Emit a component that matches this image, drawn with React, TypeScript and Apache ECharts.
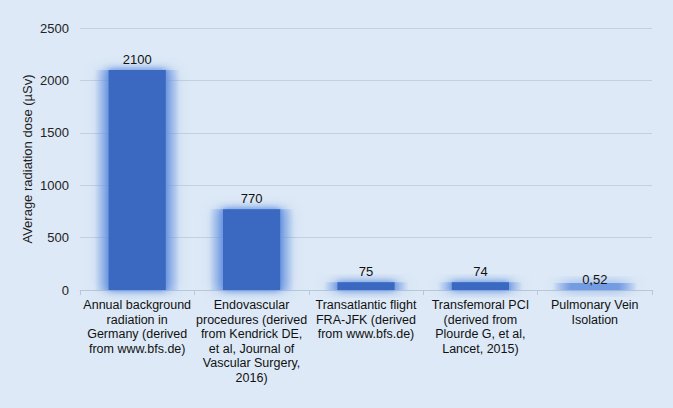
import React, { useEffect, useRef } from "react";
import * as echarts from "echarts";

const categories = [
  "Annual background\nradiation in\nGermany (derived\nfrom www.bfs.de)",
  "Endovascular\nprocedures (derived\nfrom Kendrick DE,\net al, Journal of\nVascular Surgery,\n2016)",
  "Transatlantic flight\nFRA-JFK (derived\nfrom www.bfs.de)",
  "Transfemoral PCI\n(derived from\nPlourde G, et al,\nLancet, 2015)",
  "Pulmonary Vein\nIsolation",
];
const doses = [2100, 770, 75, 74, 0.52];
const yTicks = { min: 0, max: 2500, interval: 500 };

export default function App() {
  const ref = useRef<HTMLDivElement>(null);
  useEffect(() => {
    document.body.style.margin = "0";
    const chart = echarts.init(ref.current!, null, { renderer: "svg" });
    const glowFill = new echarts.graphic.LinearGradient(0, 0, 1, 0, [
      { offset: 0, color: "rgba(105,148,224,0)" },
      { offset: 0.22, color: "rgba(105,148,224,0.85)" },
      { offset: 0.78, color: "rgba(105,148,224,0.85)" },
      { offset: 1, color: "rgba(105,148,224,0)" },
    ]);
    chart.setOption({
      animation: false,
      backgroundColor: "#dde9f6",
      textStyle: { fontFamily: "Liberation Sans, Arial, sans-serif" },
      grid: { left: 80, right: 21, top: 28, bottom: 118, containLabel: false },
      xAxis: [
        {
          type: "category",
          data: categories,
          axisLine: { lineStyle: { color: "#b9c7da" } },
          axisTick: { show: true, lineStyle: { color: "#b9c7da" }, length: 5 },
          axisLabel: {
            interval: 0,
            color: "#111",
            fontSize: 12.5,
            lineHeight: 14.5,
            margin: 8,
            align: "center",
          },
        },
        { type: "category", data: categories, show: false },
      ],
      yAxis: {
        type: "value",
        min: yTicks.min,
        max: yTicks.max,
        interval: yTicks.interval,
        name: "AVerage radiation dose (µSv)",
        nameLocation: "middle",
        nameGap: 46,
        nameMoveOverlap: false,
        nameTextStyle: { color: "#222", fontSize: 13 },
        axisLine: { show: false },
        axisTick: { show: false },
        axisLabel: {
          color: "#222",
          fontSize: 13,
          margin: 11,
          formatter: (v: number) => String(v),
        },
        splitLine: { lineStyle: { color: "#c3d0e2" } },
      },
      series: [
        {
          type: "bar",
          xAxisIndex: 1,
          data: doses,
          barWidth: "74%",
          barMinHeight: 7,
          silent: true,
          z: 1,
          itemStyle: {
            color: glowFill,
            shadowBlur: 12,
            shadowColor: "rgba(105,148,224,1)",
          },
        },
        {
          type: "bar",
          xAxisIndex: 0,
          data: doses,
          barWidth: "50%",
          z: 3,
          itemStyle: {
            color: "#3b68c0",
            shadowBlur: 6,
            shadowColor: "rgba(85,135,220,0.8)",
          },
          label: {
            show: true,
            position: "top",
            color: "#111",
            fontSize: 13,
            distance: 4,
            formatter: (p: any) => String(p.value).replace(".", ","),
          },
        },
      ],
    });
    return () => chart.dispose();
  }, []);
  return <div ref={ref} style={{ width: 673, height: 408 }} />;
}
